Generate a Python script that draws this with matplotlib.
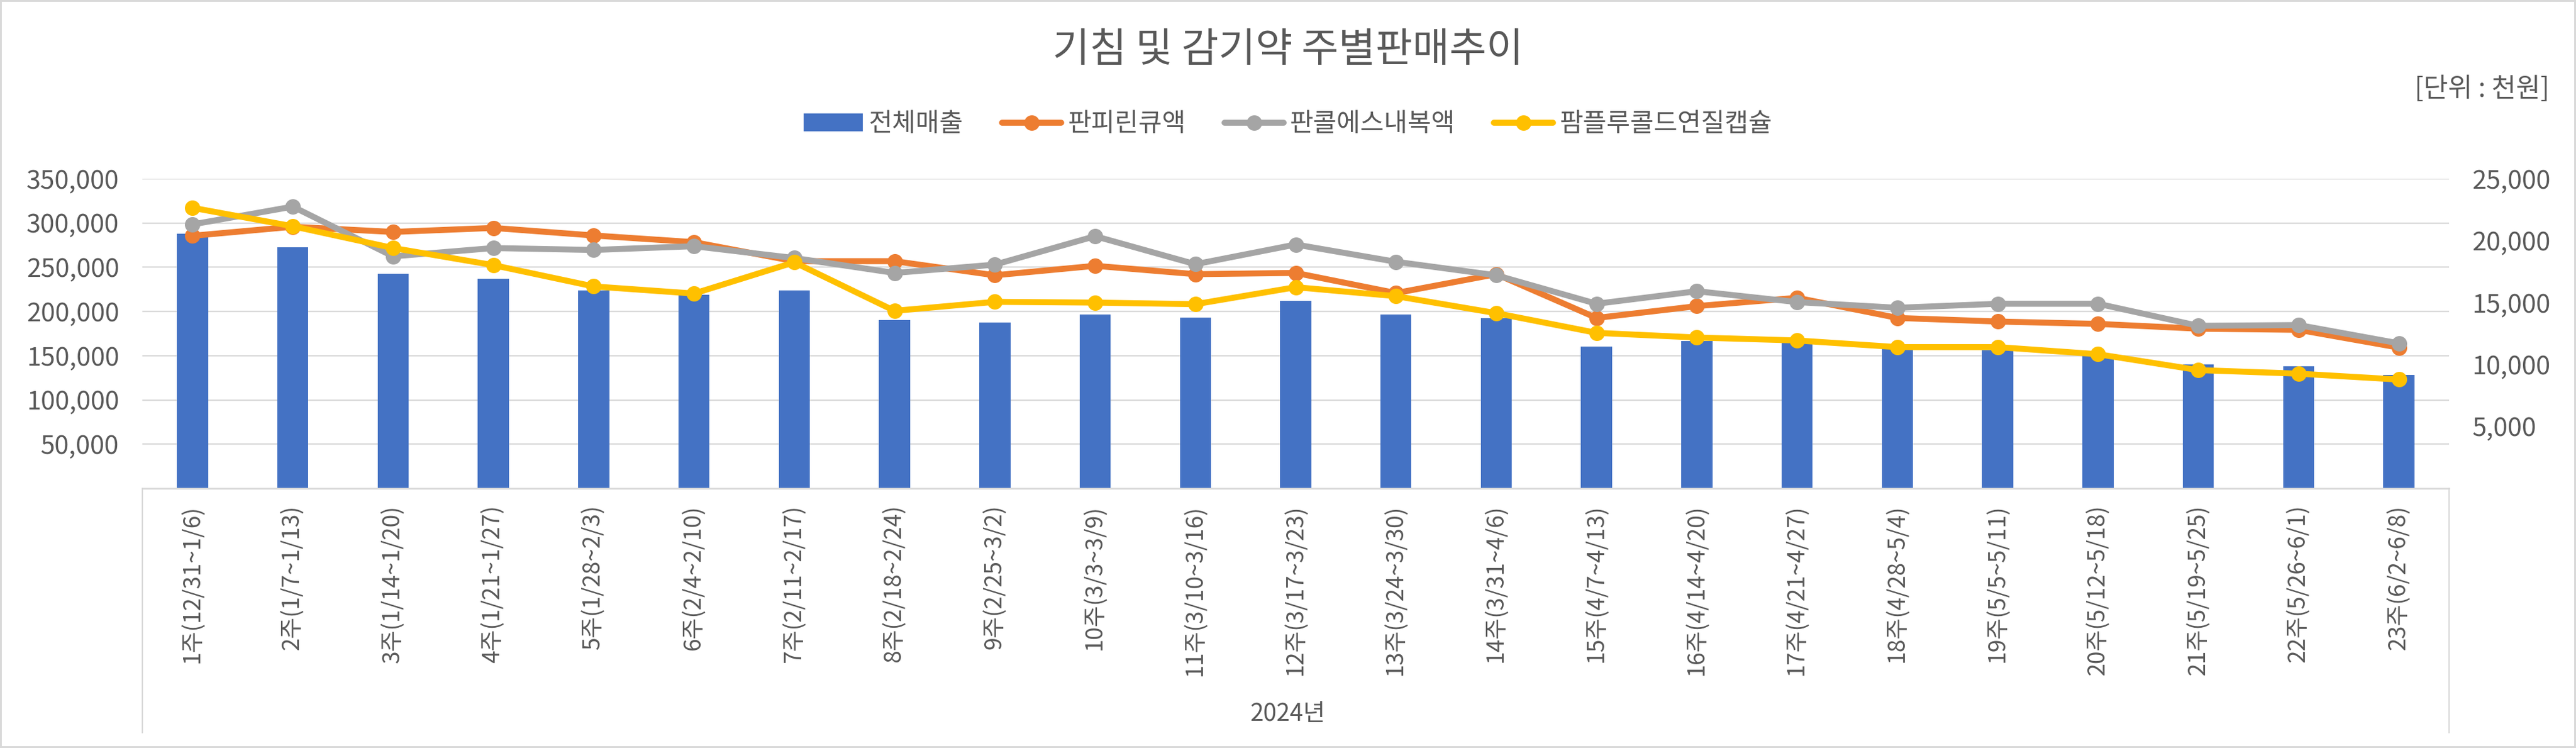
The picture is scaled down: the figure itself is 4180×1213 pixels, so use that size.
import matplotlib
matplotlib.use("Agg")
import matplotlib.pyplot as plt
from matplotlib.lines import Line2D
from matplotlib.patches import Patch
from matplotlib.ticker import FuncFormatter

plt.rcParams['font.family'] = ['Noto Sans CJK KR', 'DejaVu Sans']

weeks = ['1주(12/31~1/6)', '2주(1/7~1/13)', '3주(1/14~1/20)', '4주(1/21~1/27)',
         '5주(1/28~2/3)', '6주(2/4~2/10)', '7주(2/11~2/17)', '8주(2/18~2/24)',
         '9주(2/25~3/2)', '10주(3/3~3/9)', '11주(3/10~3/16)', '12주(3/17~3/23)',
         '13주(3/24~3/30)', '14주(3/31~4/6)', '15주(4/7~4/13)', '16주(4/14~4/20)',
         '17주(4/21~4/27)', '18주(4/28~5/4)', '19주(5/5~5/11)', '20주(5/12~5/18)',
         '21주(5/19~5/25)', '22주(5/26~6/1)', '23주(6/2~6/8)']

total_sales = [287800, 272300, 242800, 236900, 224000, 219000, 224000, 190000,
               187300, 196700, 193200, 212000, 196700, 192500, 160300, 166500,
               166500, 159000, 156500, 152000, 140000, 137900, 128400]

panpyrin = [20400, 21130, 20710, 21035, 20425, 19885, 18350, 18350, 17210,
            17975, 17300, 17400, 15775, 17300, 13765, 14720, 15390, 13765,
            13475, 13285, 12900, 12805, 11370]

pancol = [21320, 22755, 18740, 19410, 19255, 19560, 18605, 17400, 18070,
          20365, 18105, 19695, 18300, 17210, 14910, 15925, 15045, 14585,
          14910, 14910, 13130, 13190, 11715]

pamflu = [22660, 21170, 19410, 18030, 16310, 15735, 18260, 14340, 15065,
          15005, 14875, 16250, 15525, 14150, 12560, 12185, 11945, 11410,
          11410, 10835, 9555, 9265, 8790]

series_names = ['전체매출', '판피린큐액', '판콜에스내복액', '팜플루콜드연질캡슐']
series_colors = ['#4472C4', '#ED7D31', '#A5A5A5', '#FFC000']
text_color = '#595959'
grid_color = '#D9D9D9'

W, H = 4180, 1213
fig = plt.figure(figsize=(W / 100, H / 100), dpi=100)
fig.patch.set_edgecolor(grid_color)
fig.patch.set_linewidth(3)

left, right, top, bottom = 231, 3974, 290, 792
ax = fig.add_axes([left / W, 1 - bottom / H, (right - left) / W, (bottom - top) / H])
ax2 = ax.twinx()

x = list(range(len(weeks)))
ax.bar(x, total_sales, width=0.31, color=series_colors[0], zorder=2)

for vals, c in zip([panpyrin, pancol, pamflu], series_colors[1:]):
    ax2.plot(x, vals, color=c, lw=7, marker='o', ms=17, mec=c, mfc=c,
             solid_joinstyle='round', solid_capstyle='round')

ax.set_xlim(-0.5, len(weeks) - 0.5)
ax.set_ylim(0, 350000)
ax2.set_ylim(0, 25000)
ax.set_yticks(range(50000, 350001, 50000))
ax2.set_yticks(range(5000, 25001, 5000))
fmt = FuncFormatter(lambda v, p: f'{int(v):,}')
ax.yaxis.set_major_formatter(fmt)
ax2.yaxis.set_major_formatter(fmt)

ax.grid(axis='y', color=grid_color, lw=1.7, zorder=0)
ax.set_axisbelow(True)
for a in (ax, ax2):
    for s in a.spines.values():
        s.set_visible(False)
ax.spines['bottom'].set_visible(True)
ax.spines['bottom'].set_color(grid_color)
ax.spines['bottom'].set_linewidth(2)

ax.set_xticks(x)
ax.set_xticklabels(weeks, rotation=90, fontsize=27, color=text_color)
ax.tick_params(axis='x', length=0, pad=19)
ax.tick_params(axis='y', length=0, pad=27, labelsize=30, labelcolor=text_color)
ax2.tick_params(axis='y', length=0, pad=27, labelsize=30, labelcolor=text_color)

# category box lines below the axis
depth = (1188 - bottom) / (bottom - top)
for xa in (0, 1):
    ax.add_line(Line2D([xa, xa], [0, -depth], transform=ax.transAxes,
                       color=grid_color, lw=1.6, clip_on=False))

fig.text(0.5, 1 - 1158 / H, '2024년', ha='center', va='center',
         fontsize=28, color=text_color)

fig.text(0.5, 1 - 82 / H, '기침 및 감기약 주별판매추이', ha='center', va='center',
         fontsize=47, color=text_color)
fig.text(4137 / W, 1 - 145 / H, '[단위 : 천원]', ha='right', va='center',
         fontsize=31, color=text_color)

handles = [Patch(facecolor=series_colors[0])]
for c in series_colors[1:]:
    handles.append(Line2D([], [], color=c, lw=7, marker='o', ms=17,
                          solid_capstyle='round'))
fig.legend(handles, series_names, loc='center', bbox_to_anchor=(0.5, 1 - 202 / H),
           ncol=4, frameon=False, fontsize=30, labelcolor=text_color,
           handlelength=2.3, handleheight=0.7, handletextpad=0.25,
           columnspacing=1.5)

fig.savefig('out.png', dpi=100, edgecolor=fig.get_edgecolor())
